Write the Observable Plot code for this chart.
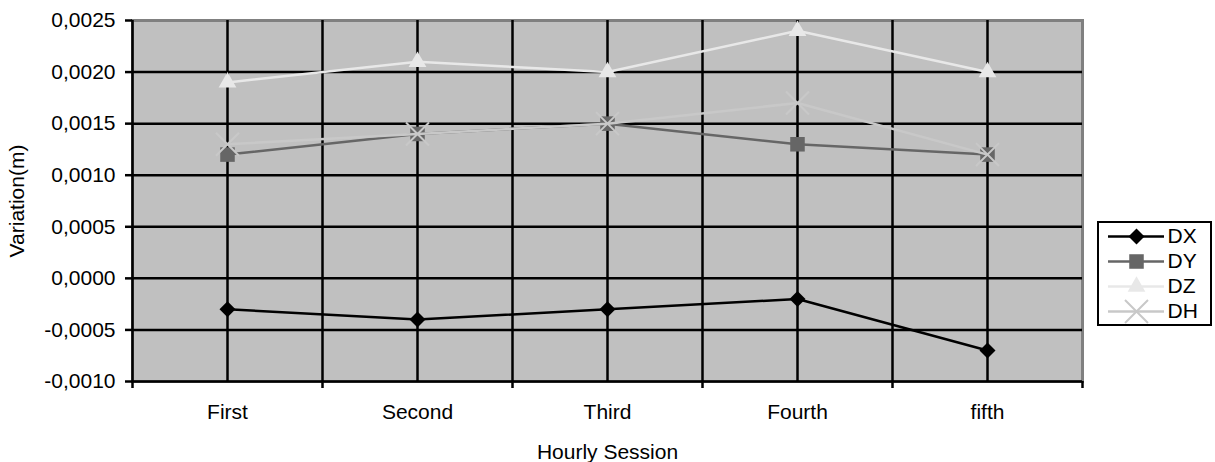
<!DOCTYPE html>
<html>
<head>
<meta charset="utf-8">
<script src="https://cdn.jsdelivr.net/npm/d3@7"></script>
<script src="https://cdn.jsdelivr.net/npm/@observablehq/plot@0.6"></script>
<style>
  html, body { margin: 0; padding: 0; background: #ffffff; }
  #wrap { position: relative; width: 1215px; height: 462px; font-family: "Liberation Sans", Arial, sans-serif; }
  #legend { position: absolute; left: 1097px; top: 221px; width: 115px; height: 105px; box-sizing: border-box; border: 2px solid #000; background: #fff; }
  #legend svg, #chart svg { display: block; }
</style>
</head>
<body>
<div id="wrap">
  <div id="chart"></div>
  <div id="legend"></div>
</div>
<script>
// Hourly sessions and coordinate variations (m)
const sessions = ["First", "Second", "Third", "Fourth", "fifth"];
const dxValues = [-0.0003, -0.0004, -0.0003, -0.0002, -0.0007];
const dyValues = [0.0012, 0.0014, 0.0015, 0.0013, 0.0012];
const dzValues = [0.0019, 0.0021, 0.0020, 0.0024, 0.0020];
const dhValues = [0.0013, 0.0014, 0.0015, 0.0017, 0.0012];
const yTicks = [-0.0010, -0.0005, 0.0000, 0.0005, 0.0010, 0.0015, 0.0020, 0.0025];

const seriesNames = ["DX", "DY", "DZ", "DH"];
const series = [
  {name: "DX", values: dxValues, color: "#000000", symbol: "diamond2", r: 7.2, filled: true},
  {name: "DY", values: dyValues, color: "#666666", symbol: "square", r: 8.2, filled: true},
  {name: "DZ", values: dzValues, color: "#e8e8e8", symbol: "triangle", r: 6.6, filled: true},
  {name: "DH", values: dhValues, color: "#c8c8c8", symbol: "times", r: 10.5, filled: false}
];

const font = "'Liberation Sans', Arial, sans-serif";
const fmt = (v) => v.toFixed(4).replace(".", ",");

// session index positions: each session is a unit-wide slot
const bounds = d3.range(-0.5, sessions.length, 1);          // slot boundaries
const gridX = d3.range(-0.5, sessions.length - 0.5, 0.5);   // boundaries + centres (right edge is the frame)
const gridY = yTicks.slice(0, -1);                           // top edge is the frame

function markerFor(s, data, channels) {
  return s.filled
    ? Plot.dot(data, {...channels, symbol: s.symbol, r: s.r, fill: s.color, stroke: "none"})
    : Plot.dot(data, {...channels, symbol: s.symbol, r: s.r, stroke: s.color, strokeWidth: 2, fill: "none"});
}

function seriesMarks(s) {
  const channels = {x: (d, i) => i, y: (d) => d};
  return [
    Plot.line(s.values, {...channels, stroke: s.color, strokeWidth: 2.5}),
    markerFor(s, s.values, channels)
  ];
}

const chart = Plot.plot({
  width: 1215,
  height: 462,
  marginLeft: 132,
  marginRight: 133,
  marginTop: 20,
  marginBottom: 81,
  style: {fontFamily: font, fontSize: "21px", background: "#ffffff", color: "#000000"},
  x: {type: "linear", domain: [-0.5, sessions.length - 0.5], axis: null},
  y: {type: "linear", domain: [yTicks[0], yTicks[yTicks.length - 1]], axis: null},
  marks: [
    Plot.frame({fill: "#c0c0c0", stroke: "none"}),
    Plot.frame({stroke: "#808080", strokeWidth: 3, fill: "none"}),
    Plot.ruleY(gridY, {y: (d) => d, stroke: "#000", strokeWidth: 2.5}),
    Plot.ruleX(gridX, {x: (d) => d, stroke: "#000", strokeWidth: 2.5}),
    ...series.flatMap(seriesMarks),
    Plot.axisY({ticks: yTicks, tickSize: 7, tickPadding: 10, tickFormat: fmt, strokeWidth: 2.5, fontSize: 21, label: null}),
    Plot.axisX({ticks: bounds, tickSize: 7, tickFormat: () => "", strokeWidth: 2.5, label: null}),
    Plot.text(sessions, {x: (d, i) => i, frameAnchor: "bottom", dy: 37, text: (d) => d, fontSize: 21}),
    Plot.text(["Hourly Session"], {frameAnchor: "bottom", dy: 77, text: (d) => d, fontSize: 21}),
    Plot.text(["Variation(m)"], {frameAnchor: "left", dx: -115, rotate: -90, textAnchor: "middle", lineAnchor: "middle", text: (d) => d, fontSize: 21})
  ]
});
document.getElementById("chart").appendChild(chart);

// Legend: one row per series, line with its marker and name
const legendMarks = [];
for (const s of series) {
  legendMarks.push(Plot.ruleY([s.name], {y: (d) => d, x1: 0, x2: 1, stroke: s.color, strokeWidth: 2.5}));
  legendMarks.push(markerFor(s, [s.name], {y: (d) => d, x: 0.5}));
  legendMarks.push(Plot.text([s.name], {y: (d) => d, x: 1, dx: 3, textAnchor: "start", text: (d) => d, fontSize: 21, fill: "#000"}));
}
const legend = Plot.plot({
  width: 111,
  height: 101,
  marginLeft: 9,
  marginRight: 46,
  marginTop: 0,
  marginBottom: 0,
  style: {fontFamily: font, fontSize: "21px", background: "#ffffff", color: "#000000", overflow: "visible"},
  x: {type: "linear", domain: [0, 1], axis: null},
  y: {type: "point", domain: seriesNames, range: [12, 89], padding: 0, axis: null},
  marks: legendMarks
});
document.getElementById("legend").appendChild(legend);
</script>
</body>
</html>
